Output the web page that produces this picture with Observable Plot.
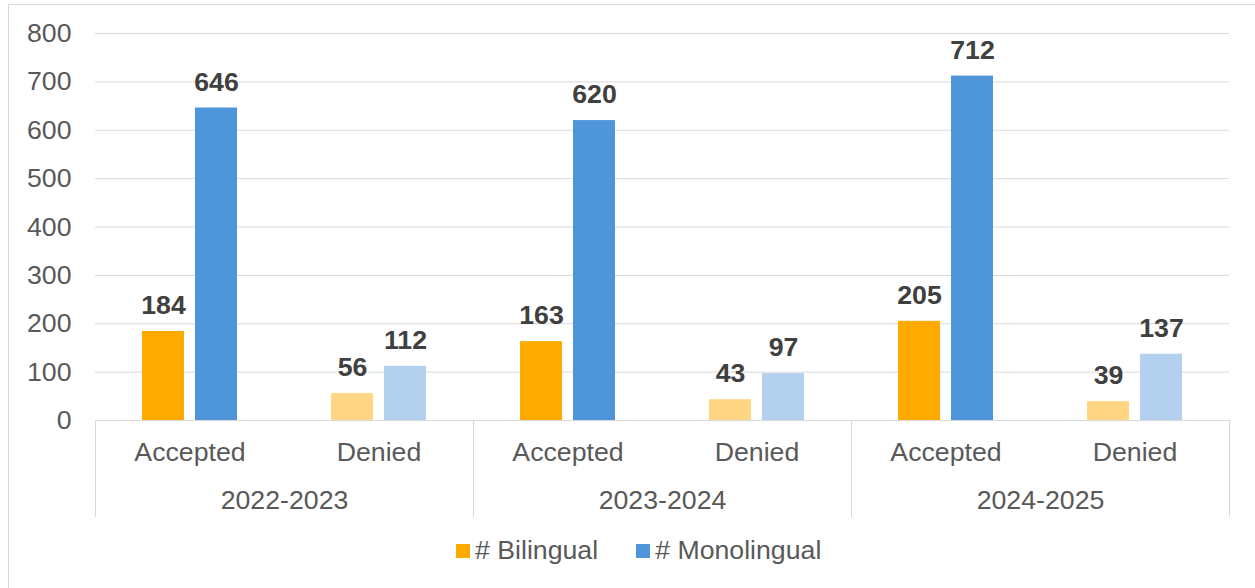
<!DOCTYPE html>
<html>
<head>
<meta charset="utf-8">
<script src="https://cdn.jsdelivr.net/npm/d3@7"></script>
<script src="https://cdn.jsdelivr.net/npm/@observablehq/plot@0.6"></script>
<style>
  body { margin: 0; background: #fff; font-family: "Liberation Sans", Arial, sans-serif; }
  #chart { position: relative; width: 1255px; height: 588px; overflow: hidden; }
  #border { position: absolute; left: 8px; top: 4px; width: 1300px; height: 700px; border: 1px solid #d9d9d9; box-sizing: border-box; }
  #plotA { position: absolute; left: 0; top: 0; }
  #plotB { position: absolute; left: 0; top: 420px; }
  #legend { position: absolute; left: 456px; top: 535px; display: flex; align-items: center; font-size: 26.7px; color: #595959; white-space: nowrap; }
  .item { display: flex; align-items: center; margin-right: 38px; }
  .sw { width: 14px; height: 14px; margin-right: 5px; }
</style>
</head>
<body>
<div id="chart">
  <div id="border"></div>
  <div id="plotA"></div>
  <div id="plotB"></div>
  <div id="legend"></div>
</div>
<script>
// ---- Data ----
const years = ["2022-2023", "2023-2024", "2024-2025"];
const statuses = ["Accepted", "Denied"];
const seriesNames = ["# Bilingual", "# Monolingual"];
// values in order: year x status (Accepted, Denied)
const bilingual = [184, 56, 163, 43, 205, 39];
const monolingual = [646, 112, 620, 97, 712, 137];
const yTicks = [0, 100, 200, 300, 400, 500, 600, 700, 800];

// ---- Styles ----
const colorDomain = ["# Bilingual|Accepted", "# Monolingual|Accepted", "# Bilingual|Denied", "# Monolingual|Denied"];
const colorRange = ["#FFAA00", "#4E95D9", "#FFD683", "#B3D0EE"];
const font = "Liberation Sans, Arial, sans-serif";
const fs = 26.7;

// ---- Build table ----
const rows = [];
years.forEach((yr, i) => {
  statuses.forEach((st, j) => {
    const k = i * statuses.length + j;
    rows.push({year: yr, status: st, series: seriesNames[0], value: bilingual[k]});
    rows.push({year: yr, status: st, series: seriesNames[1], value: monolingual[k]});
  });
});
const keyOf = d => d.year + "|" + d.status;
const keys = years.flatMap(y => statuses.map(s => y + "|" + s));

const A = Plot.plot({
  width: 1255,
  height: 421,
  marginLeft: 94,
  marginRight: 25,
  marginTop: 33,
  marginBottom: 1,
  style: {fontFamily: font, fontSize: fs + "px", color: "#595959", background: "transparent", overflow: "visible"},
  fx: {domain: keys, padding: 0, axis: null},
  x: {type: "band", domain: seriesNames, paddingInner: 0.204, paddingOuter: 0.855, axis: null},
  y: {domain: [0, 800]},
  color: {domain: colorDomain, range: colorRange},
  marks: [
    Plot.gridY(yTicks, {stroke: "#d9d9d9", strokeOpacity: 1, strokeWidth: 1}),
    Plot.axisY(yTicks, {tickSize: 0, tickPadding: 24, fontSize: fs, fill: "#595959", label: null}),
    Plot.barY(rows, {fx: keyOf, x: "series", y: "value", fill: d => d.series + "|" + d.status}),
    Plot.ruleY([0], {stroke: "#d9d9d9"}),
    Plot.text(rows, {fx: keyOf, x: "series", y: "value", text: d => String(d.value), dy: -26,
      fontWeight: "bold", fontSize: fs, fill: "#404040"})
  ]
});
document.getElementById("plotA").appendChild(A);

const statusRows = years.flatMap(y => statuses.map(s => ({year: y, status: s})));
const B = Plot.plot({
  width: 1255,
  height: 96,
  marginLeft: 94,
  marginRight: 25,
  marginTop: 0,
  marginBottom: 0,
  style: {fontFamily: font, fontSize: fs + "px", color: "#595959", background: "transparent", overflow: "visible"},
  fx: {domain: years, padding: 0, axis: null},
  x: {type: "band", domain: statuses, padding: 0, axis: null},
  marks: [
    Plot.frame({anchor: "left", stroke: "#d9d9d9"}),
    Plot.frame({anchor: "right", stroke: "#d9d9d9"}),
    Plot.text(statusRows, {fx: "year", x: "status", text: "status", frameAnchor: "top", lineAnchor: "middle", dy: 32, fontSize: fs, fill: "#595959"}),
    Plot.text(years, {fx: d => d, text: d => d, frameAnchor: "top", lineAnchor: "middle", dy: 80, fontSize: fs, fill: "#595959"})
  ]
});
document.getElementById("plotB").appendChild(B);

// ---- Legend ----
const legend = document.getElementById("legend");
seriesNames.forEach((s, i) => {
  const item = document.createElement("div");
  item.className = "item";
  const sw = document.createElement("div");
  sw.className = "sw";
  sw.style.background = colorRange[i];
  const t = document.createElement("span");
  t.textContent = s;
  item.appendChild(sw);
  item.appendChild(t);
  legend.appendChild(item);
});
</script>
</body>
</html>
